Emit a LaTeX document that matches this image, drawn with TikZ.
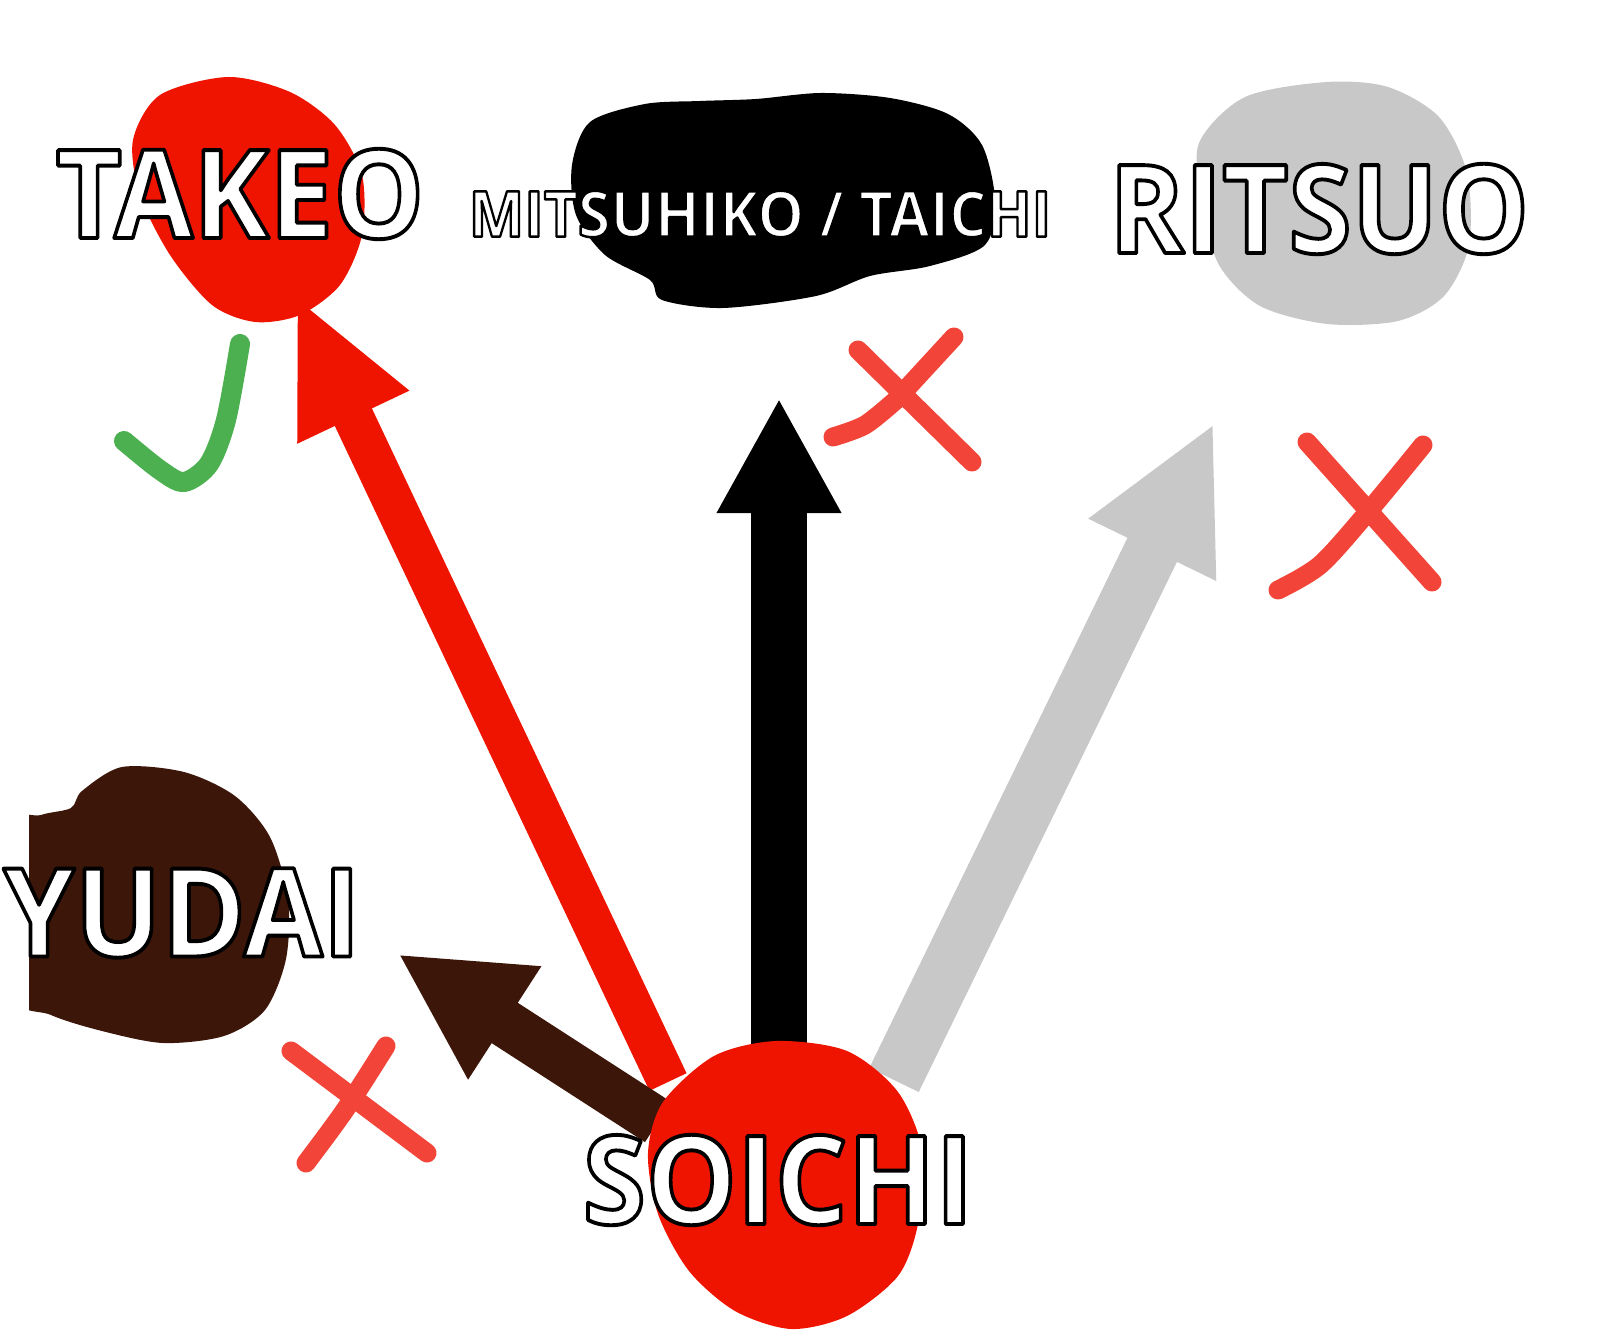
\documentclass[tikz,border=0pt]{standalone}
\usepackage{fontspec}
\setmainfont{Open Sans}
\usetikzlibrary{arrows.meta}
\definecolor{blobred}{HTML}{EF1400}
\definecolor{blobgray}{HTML}{C8C8C8}
\definecolor{blobbrown}{HTML}{3B1609}
\definecolor{crossred}{HTML}{F24438}
\definecolor{tickgreen}{HTML}{4CAF50}
\newcommand\outlined[2][1.1]{{\color{white}\special{pdf:literal direct 2 Tr #1 w 1 j 0 G}#2\special{pdf:literal direct 0 Tr}}}
\begin{document}
\begin{tikzpicture}[x=0.01cm,y=-0.01cm,
  big/.style={inner sep=0pt,xscale=0.93,font=\bfseries\fontsize{35}{35}\selectfont},
  small/.style={inner sep=0pt,xscale=0.93,font=\bfseries\fontsize{18}{18}\selectfont},
  cross/.style={crossred,line width=0.19cm,line cap=round,line join=round},
  link/.style={line width=#1}]
  \useasboundingbox (0,0) rectangle (1600,1340);
  \coordinate (soichi-r) at (668,1082); \coordinate (takeo-in) at (296,296);
  \coordinate (soichi-k) at (779,1060); \coordinate (mitsu-in) at (779,398);
  \coordinate (soichi-g) at (894,1080); \coordinate (ritsuo-in) at (1214,423);
  \coordinate (soichi-b) at (658,1122); \coordinate (yudai-in) at (398,954);
  % arrows
  \draw[link=0.41cm,blobred,-{Triangle[length=1.34cm,width=1.13cm]}] (soichi-r) -- (takeo-in);
  \draw[link=0.56cm,black,-{Triangle[length=1.15cm,width=1.16cm]}] (soichi-k) -- (mitsu-in);
  \draw[link=0.55cm,blobgray,-{Triangle[length=1.41cm,width=1.31cm]}] (soichi-g) -- (ritsuo-in);
  \draw[link=0.48cm,blobbrown,-{Triangle[length=1.27cm,width=1.25cm]}] (soichi-b) -- (yudai-in);
  % blobs
  \fill[blobred] plot[smooth cycle] coordinates {(228,77) (290,92) (335,125) (362,175)
    (362,235) (340,285) (300,315) (255,322) (212,305) (170,255) (140,195) (133,140) (160,95)};
  \fill[black] plot[smooth cycle] coordinates {(590,122) (645,104) (700,101) (756,99)
    (821,93) (890,98) (948,114) (982,145) (995,200) (985,245) (930,266) (870,276)
    (816,296) (723,308) (662,300) (650,280) (605,255) (576,215) (572,165)};
  \fill[blobgray] plot[smooth cycle] coordinates {(1199,143) (1245,97) (1327,82) (1388,87)
    (1439,117) (1467,173) (1469,245) (1444,296) (1398,321) (1327,324) (1260,306)
    (1219,265) (1202,204)};
  \begin{scope}
    \clip (29,0) rectangle (1600,1340);
    \fill[blobbrown] plot[smooth cycle] coordinates {(10,830) (41,815) (71,808) (82,791)
      (122,767) (184,772) (235,796) (270,837) (288,898) (286,959) (265,1010) (224,1036)
      (163,1043) (102,1031) (51,1015) (10,990)};
  \end{scope}
  \fill[blobred] plot[smooth cycle] coordinates {(776,1041) (847,1051) (898,1092) (923,1153)
    (918,1224) (898,1276) (847,1316) (791,1329) (735,1311) (689,1271) (658,1214)
    (648,1153) (663,1102) (714,1056)};
  % names
  \node[big] (takeo) at (240,194) {\outlined{TAKEO}};
  \node[small] (mitsu) at (760,214) {\outlined[0.7]{MITSUHIKO / TAICHI}};
  \node[big] (ritsuo) at (1319,209) {\outlined{RITSUO}};
  \node[big] (yudai) at (182,913) {\outlined{YUDAI}};
  \node[big] (soichi) at (778,1180) {\outlined{SOICHI}};
  % marks
  \draw[tickgreen,line width=0.2cm,line cap=round,line join=round]
    plot[smooth] coordinates {(240,344) (226,420) (209,464) (184,482) (160,470) (124,441)};
  \draw[cross] (954,337) -- (896,400);
  \draw[cross] plot[smooth] coordinates {(896,400) (865,425) (833,437)};
  \draw[cross] (858,350) -- (972,462);
  \draw[cross] plot[smooth] coordinates {(1423,445) (1367,513) (1320,565) (1278,590)};
  \draw[cross] (1307,442) -- (1432,582);
  \draw[cross] plot[smooth] coordinates {(386,1046) (345,1110) (306,1163)};
  \draw[cross] (291,1051) -- (427,1153);
\end{tikzpicture}
\end{document}
